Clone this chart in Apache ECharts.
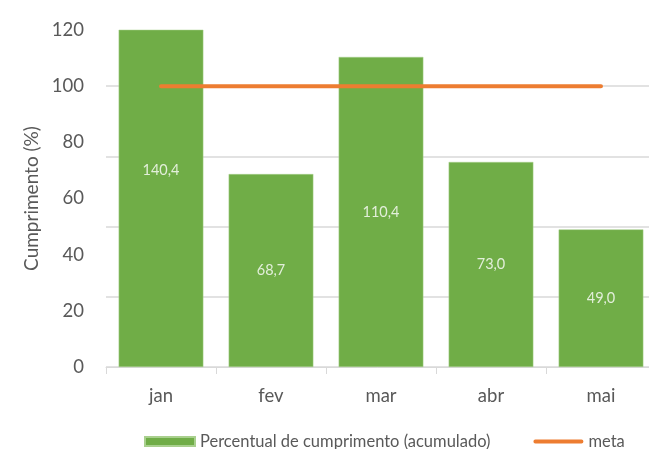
<!DOCTYPE html>
<html><head><meta charset="utf-8">
<script src="https://cdn.jsdelivr.net/npm/echarts@6/dist/echarts.min.js"></script>
<style>html,body{margin:0;padding:0;background:#fff}#c{width:649px;height:449px}</style>
</head><body><div id="c"></div>
<script>
const categories = ['jan', 'fev', 'mar', 'abr', 'mai'];
const cumprimento = [140.4, 68.7, 110.4, 73.0, 49.0];
const meta = [100, 100, 100, 100, 100];
const yTicks = [0, 20, 40, 60, 80, 100, 120];

const FONT = 'Lato';
const chart = echarts.init(document.getElementById('c'), null, {renderer: 'canvas'});
chart.setOption({
  animation: false,
  textStyle: {fontFamily: FONT},
  grid: {left: 106, width: 550, top: 30, bottom: 82, outerBoundsMode: 'none', containLabel: false},
  legend: {
    left: 139, top: 428, itemWidth: 50, itemHeight: 9, itemGap: 43,
    textStyle: {fontFamily: FONT, fontSize: 16.5, color: '#595959'},
    data: [
      {name: 'Percentual de cumprimento (acumulado)', icon: 'rect'},
      {name: 'meta', icon: 'path://M0,0 M53,9 M2,2.5 L51,2.5 A2,2 0 0 1 51,6.5 L2,6.5 A2,2 0 0 1 2,2.5 Z'}
    ]
  },
  xAxis: {
    type: 'category', data: categories,
    axisLine: {lineStyle: {color: '#D9D9D9', width: 1}},
    axisTick: {show: true, length: 7, lineStyle: {color: '#D9D9D9'}},
    axisLabel: {fontFamily: FONT, fontSize: 18.5, color: '#595959', margin: 20}
  },
  yAxis: [{
    type: 'value', min: yTicks[0], max: yTicks[yTicks.length - 1], interval: 20,
    name: 'Cumprimento (%)', nameLocation: 'middle', nameGap: 64, nameRotate: 90,
    nameTextStyle: {fontFamily: FONT, fontSize: 19, color: '#595959'},
    axisLine: {show: false}, axisTick: {show: false}, splitLine: {show: false},
    axisLabel: {fontFamily: FONT, fontSize: 18.5, color: '#595959', margin: 22}
  }, {
    type: 'value', min: 0, max: 120, interval: 25, position: 'left',
    axisLine: {show: false}, axisTick: {show: false}, axisLabel: {show: false},
    splitLine: {show: true, showMaxLine: false, lineStyle: {color: '#D9D9D9', width: 1.5}}
  }],
  series: [{
    name: 'Percentual de cumprimento (acumulado)', type: 'bar', data: cumprimento,
    barWidth: '77%', clip: true, z: 2,
    itemStyle: {color: '#70AD47', borderColor: '#A9D08E', borderWidth: 0.5},
    label: {show: false}
  }, {
    name: 'labels', type: 'scatter', symbolSize: 0, silent: true, z: 3,
    data: cumprimento.map(v => v / 2),
    label: {show: true, position: 'inside', color: '#fff', fontFamily: FONT, fontSize: 14.5,
      formatter: p => cumprimento[p.dataIndex].toFixed(1).replace('.', ',')}
  }, {
    name: 'meta', type: 'line', data: meta, symbol: 'none', z: 4,
    lineStyle: {color: '#ED7D31', width: 4, cap: 'round'},
    itemStyle: {color: '#ED7D31'}
  }]
});
</script></body></html>
